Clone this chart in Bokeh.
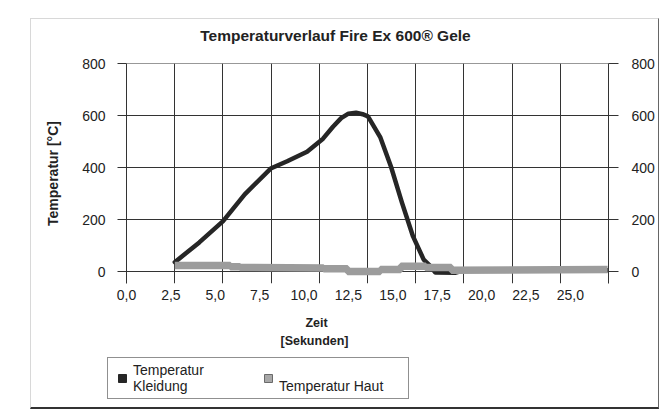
from bokeh.plotting import figure
from bokeh.layouts import column
from bokeh.models import Range1d, LinearAxis, FixedTicker, Legend, LegendItem, Label
from bokeh.embed import file_html
from bokeh.resources import INLINE

FONT = "Liberation Sans"

title_text = "Temperaturverlauf Fire Ex 600® Gele"
y_axis_title = "Temperatur [°C]"
x_axis_title_1 = "Zeit"
x_axis_title_2 = "[Sekunden]"
series_names = ["Temperatur\nKleidung", "\nTemperatur Haut"]

x_ticks = [0.0, 2.5, 5.0, 7.5, 10.0, 12.5, 15.0, 17.5, 20.0, 22.5, 25.0]
x_tick_labels = ["0,0", "2,5", "5,0", "7,5", "10,0", "12,5", "15,0", "17,5", "20,0", "22,5", "25,0"]
y_ticks = [0, 200, 400, 600, 800]

# Temperatur Kleidung
kleidung_t = [2.72, 4.1, 5.44, 6.66, 8.12, 9.05, 10.17, 11.07, 11.63, 12.09, 12.5, 12.93,
              13.3, 13.6, 14.29, 14.9, 15.52, 16.14, 16.74, 17.03, 17.4, 18.5, 19.0, 27.1]
kleidung_v = [37, 113, 195, 298, 397, 425, 462, 512, 558, 591, 608, 612,
              606, 598, 518, 404, 265, 136, 47, 28, -3, -4, 6, 6]

# Temperatur Haut (stepwise)
haut_t = [2.72, 5.85, 5.85, 6.4, 6.4, 11.1, 11.1, 12.45, 12.45, 14.3, 14.3, 15.45,
          15.45, 16.85, 16.85, 18.3, 18.3, 27.1]
haut_v = [24, 24, 19, 19, 17, 15, 12, 12, 1, 1, 9, 9,
          21, 21, 17, 17, 6, 9]

x_max = 27.15
grid_step = 2.715
grid_x = [i * grid_step for i in range(11)]

K_COLOR = "#262626"
H_COLOR = "#9c9c9c"
TXT = "#222222"
W = 627


def no_align(fig):
    if "frame_align" in fig.properties():
        fig.frame_align = False


def blank_panel(h):
    f = figure(width=W, height=h, x_range=Range1d(0, W), y_range=Range1d(0, h),
               output_backend="svg", toolbar_location=None, title=None,
               x_axis_location=None, y_axis_location=None,
               min_border_left=0, min_border_right=0, min_border_top=0, min_border_bottom=0)
    f.outline_line_color = None
    f.background_fill_color = "white"
    f.border_fill_color = "white"
    f.xgrid.visible = False
    f.ygrid.visible = False
    no_align(f)
    return f


# ---------------- title strip ----------------
t = blank_panel(34)
t.add_layout(Label(x=304, y=18, text=title_text, text_align="center", text_baseline="middle",
                   text_font=FONT, text_font_size="15.5px", text_font_style="bold",
                   text_color=TXT))

# ---------------- main chart ----------------
p = figure(width=W, height=254, title=None,
           x_range=Range1d(0, x_max), y_range=Range1d(-45, 801),
           output_backend="svg", toolbar_location=None,
           min_border_left=95, min_border_right=50,
           min_border_top=10, min_border_bottom=24)
no_align(p)
p.background_fill_color = "white"
p.border_fill_color = "white"
p.outline_line_color = None

p.xgrid.ticker = FixedTicker(ticks=grid_x)
p.ygrid.ticker = FixedTicker(ticks=y_ticks)
for g in (p.xgrid[0], p.ygrid[0]):
    g.grid_line_color = "#333333"
    g.grid_line_width = 1
    g.grid_line_alpha = 1.0

xa = p.xaxis[0]
xa.ticker = FixedTicker(ticks=x_ticks)
xa.major_label_overrides = {tk: lb for tk, lb in zip(x_ticks, x_tick_labels)}
xa.axis_line_color = None
xa.major_tick_out = 0
xa.major_tick_in = 0
xa.minor_tick_out = 0
xa.minor_tick_in = 0
xa.major_label_standoff = 6
xa.major_label_text_font = FONT
xa.major_label_text_font_size = "14px"
xa.major_label_text_color = TXT

ya = p.yaxis[0]
ya.ticker = FixedTicker(ticks=y_ticks)
ya.axis_line_color = "#333333"
ya.major_tick_line_color = "#333333"
ya.major_tick_out = 9
ya.major_tick_in = 0
ya.minor_tick_out = 0
ya.minor_tick_in = 0
ya.major_label_standoff = 12
ya.major_label_text_font = FONT
ya.major_label_text_font_size = "14px"
ya.major_label_text_color = TXT
ya.axis_label = y_axis_title
ya.axis_label_text_font = FONT
ya.axis_label_text_font_size = "14px"
ya.axis_label_text_font_style = "bold"
ya.axis_label_text_color = TXT
ya.axis_label_standoff = 18

ra = LinearAxis(ticker=FixedTicker(ticks=y_ticks))
ra.axis_line_color = "#333333"
ra.major_tick_line_color = "#333333"
ra.major_tick_out = 10
ra.major_tick_in = 0
ra.minor_tick_out = 0
ra.minor_tick_in = 0
ra.major_label_standoff = 13
ra.major_label_text_font = FONT
ra.major_label_text_font_size = "14px"
ra.major_label_text_color = TXT
p.add_layout(ra, "right")

p.line(kleidung_t, kleidung_v, line_color=K_COLOR, line_width=4.5,
       line_join="round", line_cap="round")
p.line(haut_t, haut_v, line_color=H_COLOR, line_width=7.5)

# ---------------- lower part: axis title + legend ----------------
q = blank_panel(100)

for txt, xx, yy in ((x_axis_title_1, 285, 85), (x_axis_title_2, 283, 67)):
    q.add_layout(Label(x=xx, y=yy, text=txt, text_align="center", text_baseline="middle",
                       text_font=FONT, text_font_size="12.5px", text_font_style="bold",
                       text_color=TXT))

k_sw = q.scatter(x=[kleidung_t[0]], y=[kleidung_v[0]], marker="square", size=0,
                 fill_color=K_COLOR, line_color=K_COLOR)
h_sw = q.scatter(x=[haut_t[0]], y=[haut_v[0]], marker="square", size=0,
                 fill_color="#a8a8a8", line_color="#6a6a6a")

legend = Legend(items=[LegendItem(label=series_names[0], renderers=[k_sw]),
                       LegendItem(label=series_names[1], renderers=[h_sw])],
                orientation="horizontal", location=(76, 8))
legend.border_line_color = TXT
legend.border_line_width = 1
legend.background_fill_color = "white"
legend.background_fill_alpha = 1.0
legend.label_text_font = FONT
legend.label_text_font_size = "14px"
legend.label_text_color = TXT
legend.glyph_width = 20
legend.glyph_height = 20
legend.label_standoff = 1
legend.label_width = 125
legend.spacing = 0
legend.padding = 4
legend.margin = 0
q.add_layout(legend, "center")

layout = column(t, p, q, spacing=0, margin=(18, 0, 0, 30))
layout.styles = {"border-top": "1px solid #d8d8d8", "border-left": "1px solid #d8d8d8",
                 "border-right": "1px solid #666", "border-bottom": "2px solid #333"}

open("out.html", "w").write(file_html(layout, INLINE))
